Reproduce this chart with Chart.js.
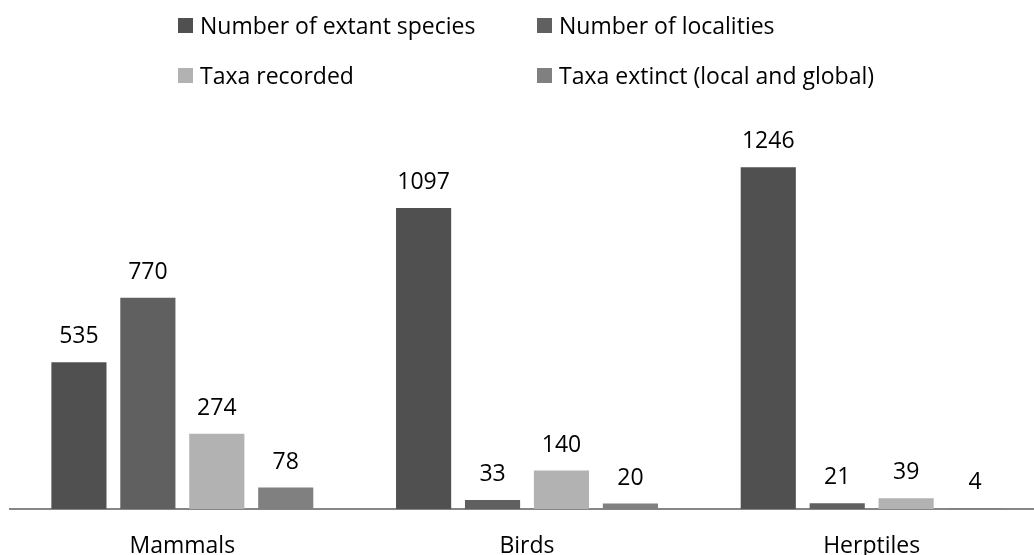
<!DOCTYPE html>
<html>
<head>
<meta charset="utf-8">
<script src="https://cdn.jsdelivr.net/npm/chart.js@4/dist/chart.umd.min.js"></script>
<style>
  html, body { margin: 0; padding: 0; background: #fff; overflow: hidden; }
  .wrap { position: relative; width: 1046px; height: 555px; }
  #legend {
    position: absolute; left: 178px; top: 11px;
    display: grid; grid-template-columns: 359px 359px; row-gap: 22px;
    font-family: "Open Sans", sans-serif; font-size: 23px; color: #000;
  }
  #legend .item { display: flex; align-items: center; height: 28px; }
  #legend .box { width: 15px; height: 15px; margin-right: 7px; }
</style>
</head>
<body>
<div class="wrap">
  <canvas id="chart" width="1046" height="555"></canvas>
  <div id="legend"></div>
</div>
<script>
const categories = ['Mammals', 'Birds', 'Herptiles'];
const seriesNames = [
  'Number of extant species',
  'Number of localities',
  'Taxa recorded',
  'Taxa extinct (local and global)'
];
const extantSpecies = [535, 1097, 1246];
const localities = [770, 33, 21];
const taxaRecorded = [274, 140, 39];
const taxaExtinct = [78, 20, 4];
const colors = ['#505050', '#606060', '#b2b2b2', '#808080'];

const FONT = '"Open Sans", sans-serif';

// value labels above each bar
const valueLabels = {
  id: 'valueLabels',
  afterDatasetsDraw(chart) {
    const ctx = chart.ctx;
    ctx.save();
    ctx.font = '23px ' + FONT;
    ctx.fillStyle = '#000';
    ctx.textAlign = 'center';
    ctx.textBaseline = 'alphabetic';
    chart.data.datasets.forEach((ds, i) => {
      chart.getDatasetMeta(i).data.forEach((bar, j) => {
        ctx.fillText(ds.data[j], bar.x, bar.y - 19);
      });
    });
    ctx.restore();
  }
};

const chart = new Chart(document.getElementById('chart'), {
  type: 'bar',
  data: {
    labels: categories,
    datasets: [extantSpecies, localities, taxaRecorded, taxaExtinct].map((d, i) => ({
      label: seriesNames[i],
      data: d,
      backgroundColor: colors[i],
      borderWidth: 0,
      categoryPercentage: 0.8,
      barPercentage: 0.8
    }))
  },
  options: {
    responsive: false,
    animation: false,
    layout: { padding: { left: 10, right: 2, top: 125, bottom: 0 } },
    plugins: {
      legend: { display: false },
      tooltip: { enabled: false }
    },
    scales: {
      x: {
        grid: { display: false, drawTicks: false },
        border: { display: true, color: '#868686', width: 2 },
        ticks: { color: '#000', font: { family: FONT, size: 23 }, padding: 24 },
        afterFit(scale) { scale.height = 46; }
      },
      y: {
        display: false,
        min: 0,
        max: 1400
      }
    }
  },
  plugins: [valueLabels]
});

// legend in a 2x2 grid, built from the datasets
const legend = document.getElementById('legend');
chart.data.datasets.forEach(ds => {
  const item = document.createElement('div');
  item.className = 'item';
  const box = document.createElement('span');
  box.className = 'box';
  box.style.background = ds.backgroundColor;
  const txt = document.createElement('span');
  txt.textContent = ds.label;
  item.appendChild(box);
  item.appendChild(txt);
  legend.appendChild(item);
});
</script>
</body>
</html>
